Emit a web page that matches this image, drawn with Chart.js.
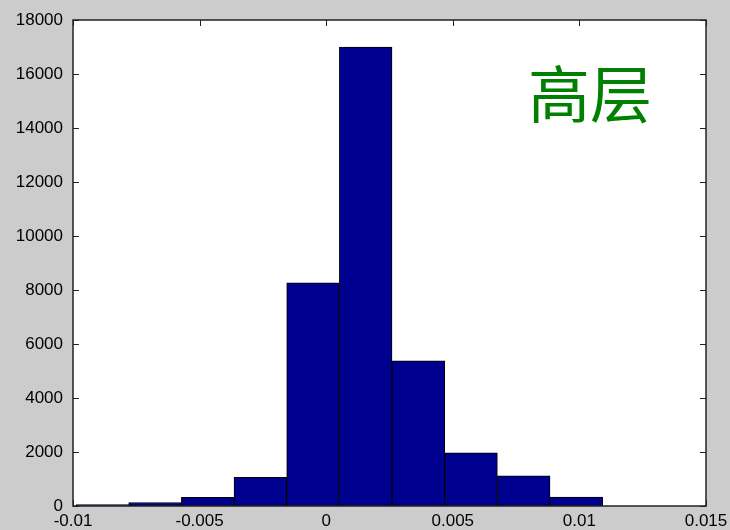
<!DOCTYPE html>
<html>
<head>
<meta charset="utf-8">
<script src="https://cdn.jsdelivr.net/npm/chart.js@4/dist/chart.umd.min.js"></script>
<style>
  html, body { margin: 0; padding: 0; background: #cccccc; }
  canvas { display: block; }
</style>
</head>
<body>
<canvas id="c" width="730" height="530"></canvas>
<script>
// Histogram bins: centres of the ten bins and their counts
const binCenters = [-0.00884, -0.00676, -0.00468, -0.0026, -0.00052, 0.00156, 0.00364, 0.00572, 0.0078, 0.00988];
const binCounts = [50, 130, 320, 1060, 8270, 17000, 5380, 1970, 1120, 330];

// Axis ticks
const xTicks = [-0.01, -0.005, 0, 0.005, 0.01, 0.015];
const yTicks = [0, 2000, 4000, 6000, 8000, 10000, 12000, 14000, 16000, 18000];

// Annotation text and where it sits (data coordinates)
const labelText = '高层';
const labelPos = { x: 0.01042, y: 15260 };

const tickFont = { family: '"Liberation Sans", Arial, sans-serif', size: 17 };

// White plot area and inward tick marks (under the bars), then the box frame and annotation
const framePlugin = {
  id: 'frame',
  beforeDatasetsDraw(chart) {
    const { ctx, chartArea: a, scales } = chart;
    const len = 6;
    ctx.save();
    ctx.fillStyle = '#ffffff';
    ctx.fillRect(a.left, a.top, a.right - a.left, a.bottom - a.top);
    ctx.strokeStyle = '#222222';
    ctx.lineWidth = 1;
    ctx.beginPath();
    xTicks.forEach(v => {
      const px = Math.round(scales.x.getPixelForValue(v)) + 0.5;
      ctx.moveTo(px, a.bottom); ctx.lineTo(px, a.bottom - len);
      ctx.moveTo(px, a.top); ctx.lineTo(px, a.top + len);
    });
    yTicks.forEach(v => {
      const py = Math.round(scales.y.getPixelForValue(v)) + 0.5;
      ctx.moveTo(a.left, py); ctx.lineTo(a.left + len, py);
      ctx.moveTo(a.right, py); ctx.lineTo(a.right - len, py);
    });
    ctx.stroke();
    ctx.restore();
  },
  afterDatasetsDraw(chart) {
    const { ctx, chartArea: a, scales } = chart;
    ctx.save();
    ctx.strokeStyle = '#222222';
    ctx.lineWidth = 1.5;
    ctx.strokeRect(a.left, a.top, a.right - a.left, a.bottom - a.top);

    ctx.fillStyle = '#008000';
    ctx.font = '62px "Noto Sans CJK SC", sans-serif';
    ctx.textAlign = 'center';
    ctx.textBaseline = 'middle';
    ctx.fillText(labelText, scales.x.getPixelForValue(labelPos.x), scales.y.getPixelForValue(labelPos.y));
    ctx.restore();
  }
};

const fmt = v => String(Number(Number(v).toFixed(4)));

new Chart(document.getElementById('c'), {
  type: 'bar',
  data: {
    datasets: [{
      data: binCenters.map((x, i) => ({ x: x, y: binCounts[i] })),
      backgroundColor: '#00008f',
      borderColor: '#000000',
      borderWidth: 1,
      borderSkipped: false,
      barPercentage: 1,
      categoryPercentage: 1
    }]
  },
  options: {
    responsive: false,
    animation: false,
    layout: { padding: { top: 20, right: 24, left: 0, bottom: 0 } },
    plugins: { legend: { display: false }, tooltip: { enabled: false } },
    scales: {
      x: {
        type: 'linear',
        offset: false,
        min: -0.01,
        max: 0.015,
        afterBuildTicks: s => { s.ticks = xTicks.map(v => ({ value: v })); },
        afterFit: s => { s.height = 24; },
        grid: { display: false },
        border: { display: false },
        ticks: { color: '#000', font: tickFont, padding: -3, maxRotation: 0, autoSkip: false, callback: v => fmt(v) }
      },
      y: {
        min: 0,
        max: 18000,
        afterBuildTicks: s => { s.ticks = yTicks.map(v => ({ value: v })); },
        afterFit: s => { s.width = 73; },
        grid: { display: false },
        border: { display: false },
        ticks: { color: '#000', font: tickFont, padding: 2, autoSkip: false, callback: v => String(v) }
      }
    }
  },
  plugins: [framePlugin]
});
</script>
</body>
</html>
